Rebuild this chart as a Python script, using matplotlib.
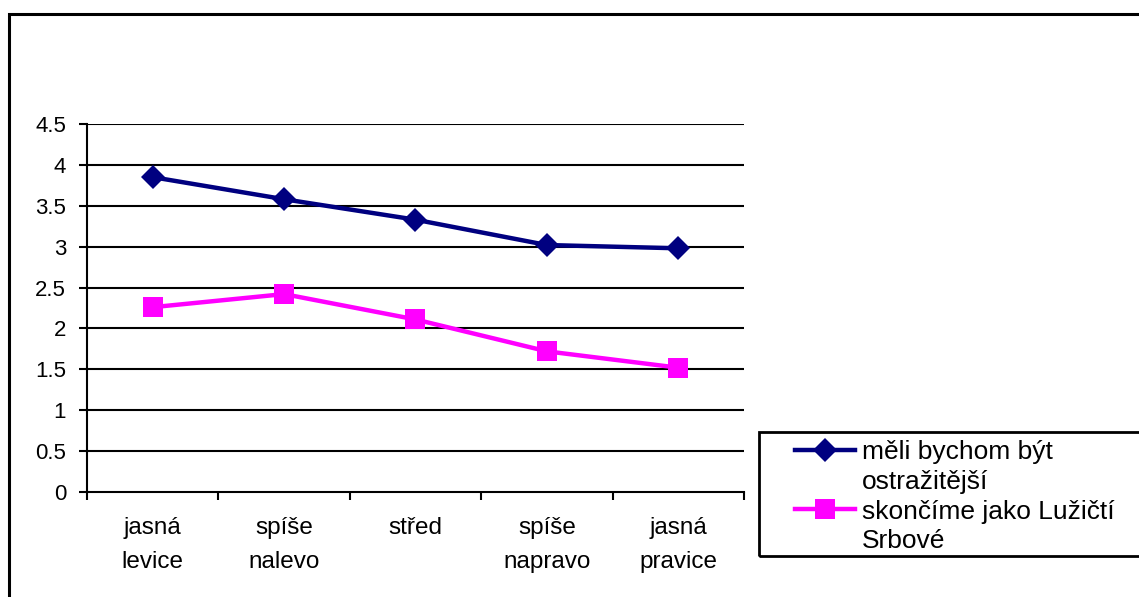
import matplotlib
matplotlib.use("Agg")
import matplotlib.pyplot as plt
from matplotlib.patches import Rectangle
from matplotlib.lines import Line2D
import numpy as np

plt.rcParams['font.family'] = ['Liberation Sans', 'DejaVu Sans']

categories = ["jasná\nlevice", "spíše\nnalevo", "střed", "spíše\nnapravo", "jasná\npravice"]
series_names = [["měli bychom být", "ostražitější"], ["skončíme jako Lužičtí", "Srbové"]]
opatrnost = [3.85, 3.58, 3.33, 3.02, 2.98]
luzicti_srbove = [2.26, 2.42, 2.11, 1.72, 1.52]
y_ticks = [0, 0.5, 1, 1.5, 2, 2.5, 3, 3.5, 4, 4.5]
y_tick_labels = ["0", "0.5", "1", "1.5", "2", "2.5", "3", "3.5", "4", "4.5"]

W, H = 1139, 597
fig = plt.figure(figsize=(W / 100, H / 100), dpi=100)

# outer chart frame
fig.patches.append(Rectangle((9 / W, -0.05), 1.2, (H - 13.5) / H + 0.05,
                             transform=fig.transFigure, fill=False,
                             edgecolor='black', linewidth=2.2))

ax = fig.add_axes([87 / W, (H - 492) / H, (744 - 87) / W, (492 - 124) / H])
x = np.arange(len(categories))

l1, = ax.plot(x, opatrnost, color='#000080', lw=3.2, marker='D', markersize=12,
              markeredgewidth=0, zorder=3)
l2, = ax.plot(x, luzicti_srbove, color='#FF00FF', lw=3.2, marker='s', markersize=15,
              markeredgewidth=0, zorder=3)

ax.set_xlim(-0.5, len(categories) - 0.5)
ax.set_ylim(0, 4.5)
ax.set_yticks(y_ticks)
ax.set_yticklabels(y_tick_labels, fontsize=16)
for yv in y_ticks[1:]:
    ax.axhline(yv, color='black', lw=1.5, zorder=1)

ax.set_xticks(x)
ax.set_xticklabels(categories, fontsize=17.5, linespacing=1.72)
ax.set_xticks(np.arange(len(categories) + 1) - 0.5, minor=True)
ax.tick_params(axis='x', which='major', length=0, pad=18)
ax.tick_params(axis='x', which='minor', length=6, width=1.5, direction='out')
ax.tick_params(axis='y', length=6, width=1.5, direction='out', pad=9)

for side in ['top', 'right']:
    ax.spines[side].set_visible(False)
for side in ['left', 'bottom']:
    ax.spines[side].set_linewidth(1.5)

# legend: handle on the first line of each wrapped label
blank = Line2D([], [], color='none')
leg_handles = [l1, blank, l2, blank]
leg_labels = [series_names[0][0], series_names[0][1], series_names[1][0], series_names[1][1]]
leg = fig.legend(handles=leg_handles, labels=leg_labels, loc='upper left',
                 bbox_to_anchor=(795 / W, (H - 440) / H), fontsize=19,
                 frameon=False, handlelength=2.27, handletextpad=0.27,
                 borderaxespad=0, labelspacing=0.22, borderpad=0)

# legend box
fig.patches.append(Rectangle((759 / W, (H - 556) / H), 0.5, (556 - 432) / H,
                             transform=fig.transFigure, fill=False,
                             edgecolor='black', linewidth=2))

fig.savefig("out.png", dpi=100)
